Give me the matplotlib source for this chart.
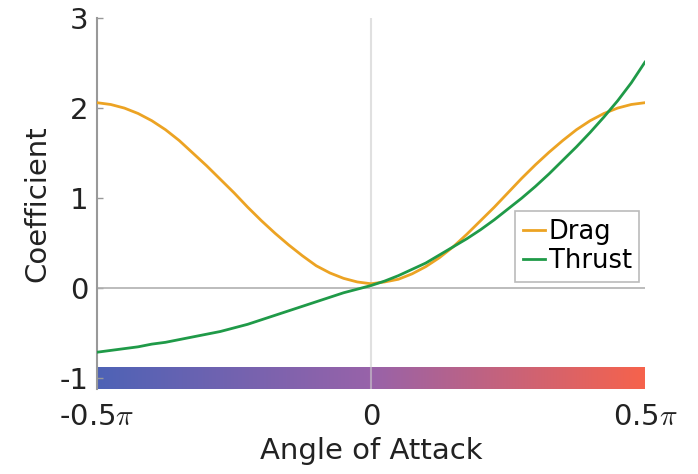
import numpy as np
import matplotlib.pyplot as plt
from matplotlib.colors import LinearSegmentedColormap

plt.rcParams['mathtext.fontset'] = 'cm'

# angle of attack in units of pi
angle = [-0.500, -0.475, -0.450, -0.425, -0.400, -0.375, -0.350, -0.325, -0.300, -0.275,
         -0.250, -0.225, -0.200, -0.175, -0.150, -0.125, -0.100, -0.075, -0.050, -0.025,
         0.000, 0.025, 0.050, 0.075, 0.100, 0.125, 0.150, 0.175, 0.200, 0.225,
         0.250, 0.275, 0.300, 0.325, 0.350, 0.375, 0.400, 0.425, 0.450, 0.475, 0.500]
drag = [2.06, 2.04, 2.00, 1.94, 1.86, 1.76, 1.64, 1.50, 1.36, 1.21,
        1.06, 0.90, 0.75, 0.61, 0.48, 0.36, 0.25, 0.17, 0.11, 0.07,
        0.05, 0.07, 0.10, 0.16, 0.24, 0.34, 0.46, 0.60, 0.75, 0.90,
        1.06, 1.22, 1.37, 1.51, 1.64, 1.76, 1.86, 1.94, 2.00, 2.04, 2.06]
thrust = [-0.71, -0.69, -0.67, -0.65, -0.62, -0.60, -0.57, -0.54, -0.51, -0.48,
          -0.44, -0.40, -0.35, -0.30, -0.25, -0.20, -0.15, -0.10, -0.05, -0.01,
          0.03, 0.08, 0.14, 0.21, 0.28, 0.37, 0.46, 0.55, 0.65, 0.76,
          0.88, 1.00, 1.13, 1.27, 1.42, 1.57, 1.73, 1.90, 2.08, 2.28, 2.51]

xticks = [-0.5, 0, 0.5]
xticklabels = ['-0.5$\\pi$', '0', '0.5$\\pi$']
yticks = [-1, 0, 1, 2, 3]
yticklabels = ['-1', '0', '1', '2', '3']

x = np.array(angle) * np.pi

fig = plt.figure(figsize=(6.98, 4.74), dpi=100)
ax = fig.add_axes([0.139, 0.179, 0.785, 0.783])

# colour bar along the bottom
cmap = LinearSegmentedColormap.from_list('aoa', ['#4e63b6', '#9862a9', '#f6634c'])
grad = np.linspace(0, 1, 256).reshape(1, -1)
ax.imshow(grad, cmap=cmap, aspect='auto', extent=[-np.pi / 2, np.pi / 2, -1.12, -0.88],
          zorder=1)

ax.axhline(0, color='#b0b0b0', lw=1.2, zorder=2)
ax.axvline(0, color='#cccccc', lw=1.5, alpha=0.6, zorder=3)

ax.plot(x, drag, color='#eca323', lw=2, label='Drag', zorder=4)
ax.plot(x, thrust, color='#1f9a48', lw=2, label='Thrust', zorder=5)

ax.set_xlim(-np.pi / 2, np.pi / 2)
ax.set_ylim(-1.12, 3)

for s in ['top', 'right', 'bottom']:
    ax.spines[s].set_visible(False)
ax.spines['left'].set_color('#999999')
ax.spines['left'].set_linewidth(1.5)

ax.set_xticks(np.array(xticks) * np.pi)
ax.set_xticklabels(xticklabels)
ax.set_yticks(yticks)
ax.set_yticklabels(yticklabels)
ax.tick_params(axis='x', length=0, pad=10, labelsize=21, colors='#222222')
ax.tick_params(axis='y', direction='in', length=4, width=1, color='#999999',
               pad=6, labelsize=21, labelcolor='#222222')

ax.set_xlabel('Angle of Attack', fontsize=21, color='#222222', labelpad=4)
ax.set_ylabel('Coefficient', fontsize=21, color='#222222', labelpad=6)

leg = ax.legend(loc='lower right', bbox_to_anchor=(0.99, 0.29), fontsize=18.5,
                handlelength=0.85, handletextpad=0.15, borderpad=0.3,
                labelspacing=0.12, fancybox=False, borderaxespad=0)
leg.get_frame().set_edgecolor('#aaaaaa')
leg.get_frame().set_linewidth(1.2)

fig.savefig('out.png', dpi=100)
